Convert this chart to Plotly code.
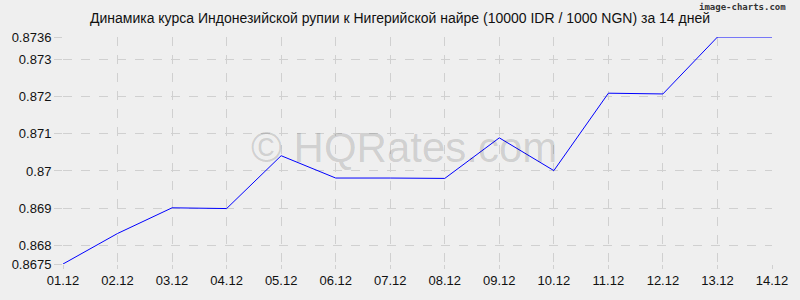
import plotly.graph_objects as go

dates = ["01.12", "02.12", "03.12", "04.12", "05.12", "06.12", "07.12",
         "08.12", "09.12", "10.12", "11.12", "12.12", "13.12", "14.12"]
rates = [0.8675, 0.86832, 0.86901, 0.86899, 0.87041, 0.86981, 0.86981,
         0.86980, 0.87089, 0.87001, 0.87209, 0.87207, 0.8736, 0.8736]
ytick_vals = [0.8675, 0.868, 0.869, 0.870, 0.871, 0.872, 0.873, 0.8736]
ytick_text = ["0.8675", "0.868", "0.869", "0.87", "0.871", "0.872", "0.873", "0.8736"]

fig = go.Figure()
fig.add_trace(go.Scatter(x=list(range(len(dates))), y=rates, mode="lines",
                         line=dict(color="#0000ff", width=1), hoverinfo="skip"))

grid = dict(showgrid=True, gridcolor="#d0d0d0", griddash="dash", gridwidth=1,
            zeroline=False, showline=False, ticks="outside", ticklen=8,
            tickcolor="#d0d0d0", tickfont=dict(family="Liberation Sans, Arial", size=13, color="#111"))

fig.update_layout(
    width=800, height=300,
    margin=dict(l=60, r=22, t=37, b=34),
    paper_bgcolor="#efefef", plot_bgcolor="#efefef",
    showlegend=False,
    title=dict(text="Динамика курса Индонезийской рупии к Нигерийской найре (10000 IDR / 1000 NGN) за 14 дней",
               x=0.5, xanchor="center", y=1 - 18 / 300, yanchor="middle",
               font=dict(family="Liberation Sans, Arial", size=14, color="#111")),
    xaxis=dict(range=[0, len(dates) - 1], tickvals=list(range(len(dates))), ticktext=dates, **grid),
    yaxis=dict(range=[0.8675, 0.8736], tickvals=ytick_vals, ticktext=ytick_text, **grid),
)
fig.update_xaxes(ticklen=4)

fig.add_annotation(text="© HQRates.com", xref="paper", yref="paper", x=0.5, y=0.5,
                   xshift=-14, yshift=3,
                   showarrow=False, font=dict(family="Liberation Sans, Arial", size=42, color="rgba(0,0,0,0.14)"))
fig.add_annotation(text="<b>image-charts.com</b>", xref="paper", yref="paper", x=1, y=1,
                   xanchor="right", yanchor="middle", yshift=30, xshift=16, showarrow=False,
                   font=dict(family="DejaVu Sans Mono", size=9, color="#333"))

fig.write_html("out.html")
